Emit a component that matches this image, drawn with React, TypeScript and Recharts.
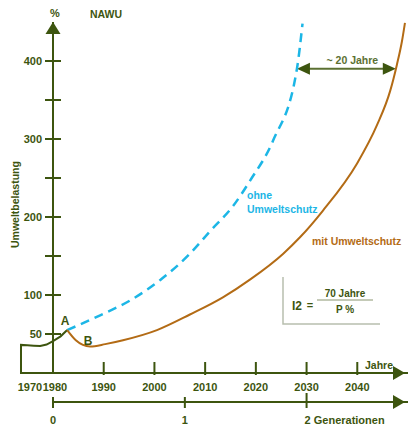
import { LineChart, Line, XAxis, YAxis, ReferenceLine } from "recharts";

// Umweltbelastung in %
const historyYears = [1980, 1970, 1970, 1972, 1974, 1976, 1978, 1980, 1981.5, 1982.8];
const historyLoad = [0, 0, 36, 35.5, 35, 34.5, 36.5, 41, 47, 55];

const ohneYears = [1982.8, 1989.3, 1995.2, 2001.1, 2007, 2011, 2015.5, 2018.9, 2023.4, 2028.1, 2029.2];
const ohneLoad = [55, 74, 93, 119, 153, 182, 214, 247, 298, 390, 448];

const mitYears = [
  1982.8, 1984.5, 1985.9, 1987.3, 1990.3, 1993.8, 2000.5, 2007, 2013.5, 2018.9, 2025.4, 2028.7, 2033.2, 2039.9,
  2043.9, 2046.5, 2047.8, 2048.8, 2049.4,
];
const mitLoad = [55, 42, 36, 34, 37, 42, 55, 75, 97, 120, 153, 174, 208, 268, 318, 362, 395, 425, 449];

const yearTicks = [1970, 1980, 1990, 2000, 2010, 2020, 2030, 2040];
const loadTicks = [50, 100, 150, 200, 250, 300, 350, 400];
const loadLabels = [50, 100, 200, 300, 400];
const genTicks = [1980, 2006, 2030];
const genLabels = ["0", "1", "2 Generationen"];

const doublingLoad = 390;
const doublingFrom = 2028.1;
const doublingTo = 2047.6;

const AXIS = "#3d550f";
const BLUE = "#1cb6e6";
const BROWN = "#b36b15";
const FONT = "'Liberation Sans', Arial, sans-serif";

const toRows = (xs: number[], ys: number[]) => xs.map((year, i) => ({ year, load: ys[i] }));
const historyData = toRows(historyYears, historyLoad);
const ohneData = toRows(ohneYears, ohneLoad);
const mitData = toRows(mitYears, mitLoad);

// the 1970s are squeezed left of the y axis (1980), like in the original
const SQUEEZE = 0.631;
function makeYearScale(): any {
  let dom: number[] = [1980, 2050];
  let rng: number[] = [0, 1];
  const scale: any = (v: number) => {
    const perYear = (rng[1] - rng[0]) / 70;
    if (v >= 1980) return rng[0] + (v - 1980) * perYear;
    return rng[0] - (1980 - v) * perYear * SQUEEZE;
  };
  scale.domain = (d?: number[]) => {
    if (d === undefined) return dom;
    dom = d.slice();
    return scale;
  };
  scale.range = (r?: number[]) => {
    if (r === undefined) return rng;
    rng = r.slice();
    return scale;
  };
  scale.copy = () => {
    const s = makeYearScale();
    s.domain(dom);
    s.range(rng);
    return s;
  };
  scale.ticks = () => yearTicks;
  return scale;
}
const yearScale = makeYearScale();
const genScale = makeYearScale();

const YearTick = ({ x, y, payload }: any) => {
  const year = payload.value;
  const dx = year === 1970 ? 9 : year === 1980 ? 2 : 0;
  return (
    <g>
      {year >= 1990 && <line x1={x} x2={x} y1={y - 11} y2={y + 2} stroke={AXIS} strokeWidth={2} />}
      <text x={x + dx} y={y + 18} textAnchor="middle" fontSize={11} fontWeight="bold" fill={AXIS} fontFamily={FONT}>
        {year}
      </text>
    </g>
  );
};

const GenTick = ({ x, y, payload }: any) => {
  const i = genTicks.indexOf(payload.value);
  const last = i === genTicks.length - 1;
  return (
    <g>
      <line x1={x} x2={x} y1={y - (last ? 9 : 5)} y2={y + 6} stroke={AXIS} strokeWidth={2} />
      <text
        x={last ? x - 2 : x}
        y={y + 22}
        textAnchor={last ? "start" : "middle"}
        fontSize={11}
        fontWeight="bold"
        fill={AXIS}
        fontFamily={FONT}
      >
        {genLabels[i]}
      </text>
    </g>
  );
};

const LoadTick = ({ x, y, payload }: any) => (
  <g>
    <line x1={x - 8} x2={x + 8} y1={y} y2={y} stroke={AXIS} strokeWidth={2} />
    {loadLabels.includes(payload.value) && (
      <text x={x - 11} y={y + 4} textAnchor="end" fontSize={11} fontWeight="bold" fill={AXIS} fontFamily={FONT}>
        {payload.value}
      </text>
    )}
  </g>
);

const YAxisDeco = ({ viewBox }: any) => {
  const { x, y, width, height } = viewBox;
  const ax = x + width;
  return (
    <g fontFamily={FONT} fill={AXIS}>
      <polygon points={`${ax},${y} ${ax - 7.5},${y + 12} ${ax + 7.5},${y + 12}`} />
      <text x={ax + 2} y={y - 5} textAnchor="middle" fontSize={11} fontWeight="bold">%</text>
      <text x={ax + 37} y={y - 4} fontSize={10.5} fontWeight="bold">NAWU</text>
      <text
        transform={`translate(${x + 11},${y + height * 0.52}) rotate(-90)`}
        textAnchor="middle"
        fontSize={10.5}
        fontWeight="bold"
      >
        Umweltbelastung
      </text>
    </g>
  );
};

const XAxisDeco = ({ viewBox }: any) => {
  const { x, y, width } = viewBox;
  const ex = x + width - 3;
  return (
    <g fontFamily={FONT} fill={AXIS}>
      <polygon points={`${ex},${y} ${ex - 12},${y - 7} ${ex - 12},${y + 7}`} />
      <text x={ex - 12} y={y - 4} textAnchor="end" fontSize={10.5} fontWeight="bold">Jahre</text>
    </g>
  );
};

const GenAxisDeco = ({ viewBox }: any) => {
  const { x, y, width } = viewBox;
  const ex = x + width - 3;
  return <polygon points={`${ex},${y} ${ex - 12},${y - 7} ${ex - 12},${y + 7}`} fill={AXIS} />;
};

const DoublingArrow = ({ x1, y1, x2 }: any) => (
  <g>
    <line x1={x1 + 10} x2={x2 - 10} y1={y1} y2={y1} stroke="#5b7032" strokeWidth={2} />
    <polygon points={`${x1},${y1} ${x1 + 13},${y1 - 6} ${x1 + 13},${y1 + 6}`} fill={AXIS} />
    <polygon points={`${x2},${y1} ${x2 - 13},${y1 - 6} ${x2 - 13},${y1 + 6}`} fill={AXIS} />
    <text x={(x1 + x2) / 2 + 6} y={y1 - 5} textAnchor="middle" fontSize={10.5} fontWeight="bold" fill="#5b7032" fontFamily={FONT}>
      ~ 20 Jahre
    </text>
  </g>
);

export default function App() {
  return (
    <div style={{ position: "relative", width: 408, height: 418 }}>
      <LineChart width={408} height={418} margin={{ top: 14, right: 8, bottom: 0, left: 0 }}>
        <XAxis
          dataKey="year"
          type="number"
          scale={yearScale}
          domain={[1980, 2050]}
          ticks={yearTicks}
          interval={0}
          tickSize={0}
          tickMargin={0}
          tick={<YearTick />}
          tickLine={false}
          axisLine={{ stroke: AXIS, strokeWidth: 2 }}
          height={29}
          label={<XAxisDeco />}
        />
        <XAxis
          xAxisId="gen"
          dataKey="year"
          type="number"
          scale={genScale}
          domain={[1980, 2050]}
          allowDataOverflow
          ticks={genTicks}
          interval={0}
          tickSize={0}
          tickMargin={0}
          tick={<GenTick />}
          tickLine={false}
          axisLine={{ stroke: AXIS, strokeWidth: 2 }}
          height={24}
          label={<GenAxisDeco />}
        />
        <YAxis
          type="number"
          domain={[0, 450]}
          ticks={loadTicks}
          interval={0}
          width={45}
          tickSize={0}
          tickMargin={0}
          tick={<LoadTick />}
          tickLine={false}
          axisLine={{ stroke: AXIS, strokeWidth: 2 }}
          label={<YAxisDeco />}
        />
        <ReferenceLine
          segment={[
            { x: doublingFrom, y: doublingLoad },
            { x: doublingTo, y: doublingLoad },
          ]}
          ifOverflow="visible"
          shape={(p: any) => <DoublingArrow {...p} />}
        />
        <Line
          data={historyData}
          dataKey="load"
          type="linear"
          stroke={AXIS}
          strokeWidth={2}
          dot={false}
          isAnimationActive={false}
        />
        <Line
          data={ohneData}
          dataKey="load"
          type="monotone"
          stroke={BLUE}
          strokeWidth={2.5}
          strokeDasharray="9 6"
          dot={false}
          isAnimationActive={false}
        />
        <Line
          data={mitData}
          dataKey="load"
          type="monotone"
          stroke={BROWN}
          strokeWidth={2}
          dot={false}
          isAnimationActive={false}
        />
      </LineChart>
      <svg
        width={408}
        height={418}
        style={{ position: "absolute", left: 0, top: 0, pointerEvents: "none" }}
        fontFamily={FONT}
        fontWeight="bold"
      >
        <text x={239} y={190.5} fontSize={10.5} fill={BLUE}>ohne</text>
        <text x={239} y={204.5} fontSize={10.5} fill={BLUE}>Umweltschutz</text>
        <text x={304} y={237} fontSize={10.5} fill={BROWN}>mit Umweltschutz</text>
        <text x={57} y={317} fontSize={12} fill={AXIS} textAnchor="middle">A</text>
        <text x={80} y={337} fontSize={12} fill={AXIS} textAnchor="middle">B</text>
        <polyline points="275,269 275,316 372,316" fill="none" stroke="#b8bfae" strokeWidth={1.5} />
        <text x={284} y={302} fontSize={12} fill={AXIS}>I2</text>
        <text x={302} y={301} fontSize={11} fill={AXIS} textAnchor="middle">=</text>
        <line x1={309} x2={365} y1={292} y2={292} stroke="#8a9570" strokeWidth={1} />
        <text x={337} y={288.5} fontSize={10} fill={AXIS} textAnchor="middle">70 Jahre</text>
        <text x={337} y={305} fontSize={10} fill={AXIS} textAnchor="middle">P %</text>
      </svg>
    </div>
  );
}
